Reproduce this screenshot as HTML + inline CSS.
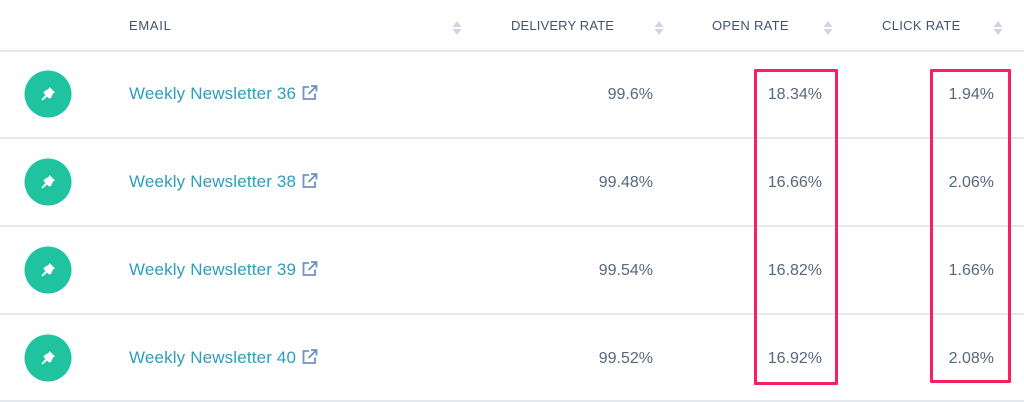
<!DOCTYPE html>
<html lang="en">
<head>
<meta charset="utf-8">
<title>Weekly Newsletter Email Metrics</title>
<style>
html,body{margin:0;padding:0;background:#fff;}
#page{position:relative;width:1024px;height:402px;overflow:hidden;background:#fff;font-family:"Liberation Sans",sans-serif;}
.rule{position:absolute;left:0;width:1024px;height:2px;background:#e4e8ef;}
.th{position:absolute;top:18px;font-size:13px;line-height:16px;color:#42536b;white-space:nowrap;letter-spacing:.3px;}
.sort{position:absolute;top:20px;width:10px;height:16px;}
.icon{position:absolute;left:24px;width:48px;height:48px;}
.link{position:absolute;left:129px;font-size:17px;line-height:20px;color:#2b9dbe;white-space:nowrap;text-decoration:none;letter-spacing:.15px;}
.ext{position:absolute;left:301px;width:17px;height:17px;}
.val{position:absolute;font-size:16px;line-height:20px;color:#56677f;text-align:right;white-space:nowrap;width:80px;}
.box{position:absolute;border:3px solid #f8215f;box-sizing:border-box;border-radius:1px;}
</style>
</head>
<body>
<div id="page">
  <div class="th" style="left:129px;letter-spacing:.7px">EMAIL</div>
  <svg class="sort" style="left:452px" viewBox="0 0 10 16"><path d="M5 1 9.5 7H.5zM5 15 .5 9h9z" fill="#cdd6e2"/></svg>
  <div class="th" style="left:511px;letter-spacing:.15px">DELIVERY RATE</div>
  <svg class="sort" style="left:654px" viewBox="0 0 10 16"><path d="M5 1 9.5 7H.5zM5 15 .5 9h9z" fill="#cdd6e2"/></svg>
  <div class="th" style="left:712px">OPEN RATE</div>
  <svg class="sort" style="left:823px" viewBox="0 0 10 16"><path d="M5 1 9.5 7H.5zM5 15 .5 9h9z" fill="#cdd6e2"/></svg>
  <div class="th" style="left:882px">CLICK RATE</div>
  <svg class="sort" style="left:993px" viewBox="0 0 10 16"><path d="M5 1 9.5 7H.5zM5 15 .5 9h9z" fill="#cdd6e2"/></svg>

  <div class="rule" style="top:50px"></div>
  <div class="rule" style="top:137px"></div>
  <div class="rule" style="top:225px"></div>
  <div class="rule" style="top:313px"></div>
  <div class="rule" style="top:400px"></div>

  <svg class="icon" style="top:70px" viewBox="0 0 48 48"><circle cx="24" cy="24" r="23.5" fill="#1fc3a0"/><path d="M25.500 17 31 22.500 29 23.500 27 28 25 28.500 23 26.500 18.500 30.500 17.500 29.500 21.500 25 19.500 23 20 21.500 24.500 19z" fill="#fff"/></svg>
  <a class="link" style="top:84px">Weekly Newsletter 36</a>
  <svg class="ext" style="top:84px" viewBox="0 0 17 17"><path d="M8 3H2.500V15H14V9.500M10 2H15.500V7.500M15 2.500 7.500 10" fill="none" stroke="#6f93bd" stroke-width="1.800"/></svg>
  <div class="val" style="left:573px;top:85px">99.6%</div>
  <div class="val" style="left:742px;top:85px">18.34%</div>
  <div class="val" style="left:914px;top:85px">1.94%</div>

  <svg class="icon" style="top:158px" viewBox="0 0 48 48"><circle cx="24" cy="24" r="23.5" fill="#1fc3a0"/><path d="M25.500 17 31 22.500 29 23.500 27 28 25 28.500 23 26.500 18.500 30.500 17.500 29.500 21.500 25 19.500 23 20 21.500 24.500 19z" fill="#fff"/></svg>
  <a class="link" style="top:172px">Weekly Newsletter 38</a>
  <svg class="ext" style="top:172px" viewBox="0 0 17 17"><path d="M8 3H2.500V15H14V9.500M10 2H15.500V7.500M15 2.500 7.500 10" fill="none" stroke="#6f93bd" stroke-width="1.800"/></svg>
  <div class="val" style="left:573px;top:173px">99.48%</div>
  <div class="val" style="left:742px;top:173px">16.66%</div>
  <div class="val" style="left:914px;top:173px">2.06%</div>

  <svg class="icon" style="top:246px" viewBox="0 0 48 48"><circle cx="24" cy="24" r="23.5" fill="#1fc3a0"/><path d="M25.500 17 31 22.500 29 23.500 27 28 25 28.500 23 26.500 18.500 30.500 17.500 29.500 21.500 25 19.500 23 20 21.500 24.500 19z" fill="#fff"/></svg>
  <a class="link" style="top:260px">Weekly Newsletter 39</a>
  <svg class="ext" style="top:260px" viewBox="0 0 17 17"><path d="M8 3H2.500V15H14V9.500M10 2H15.500V7.500M15 2.500 7.500 10" fill="none" stroke="#6f93bd" stroke-width="1.800"/></svg>
  <div class="val" style="left:573px;top:261px">99.54%</div>
  <div class="val" style="left:742px;top:261px">16.82%</div>
  <div class="val" style="left:914px;top:261px">1.66%</div>

  <svg class="icon" style="top:334px" viewBox="0 0 48 48"><circle cx="24" cy="24" r="23.5" fill="#1fc3a0"/><path d="M25.500 17 31 22.500 29 23.500 27 28 25 28.500 23 26.500 18.500 30.500 17.500 29.500 21.500 25 19.500 23 20 21.500 24.500 19z" fill="#fff"/></svg>
  <a class="link" style="top:348px">Weekly Newsletter 40</a>
  <svg class="ext" style="top:348px" viewBox="0 0 17 17"><path d="M8 3H2.500V15H14V9.500M10 2H15.500V7.500M15 2.500 7.500 10" fill="none" stroke="#6f93bd" stroke-width="1.800"/></svg>
  <div class="val" style="left:573px;top:349px">99.52%</div>
  <div class="val" style="left:742px;top:349px">16.92%</div>
  <div class="val" style="left:914px;top:349px">2.08%</div>

  <div class="box" style="left:754px;top:69px;width:84px;height:316px"></div>
  <div class="box" style="left:930px;top:69px;width:81px;height:314px"></div>
</div>
</body>
</html>
